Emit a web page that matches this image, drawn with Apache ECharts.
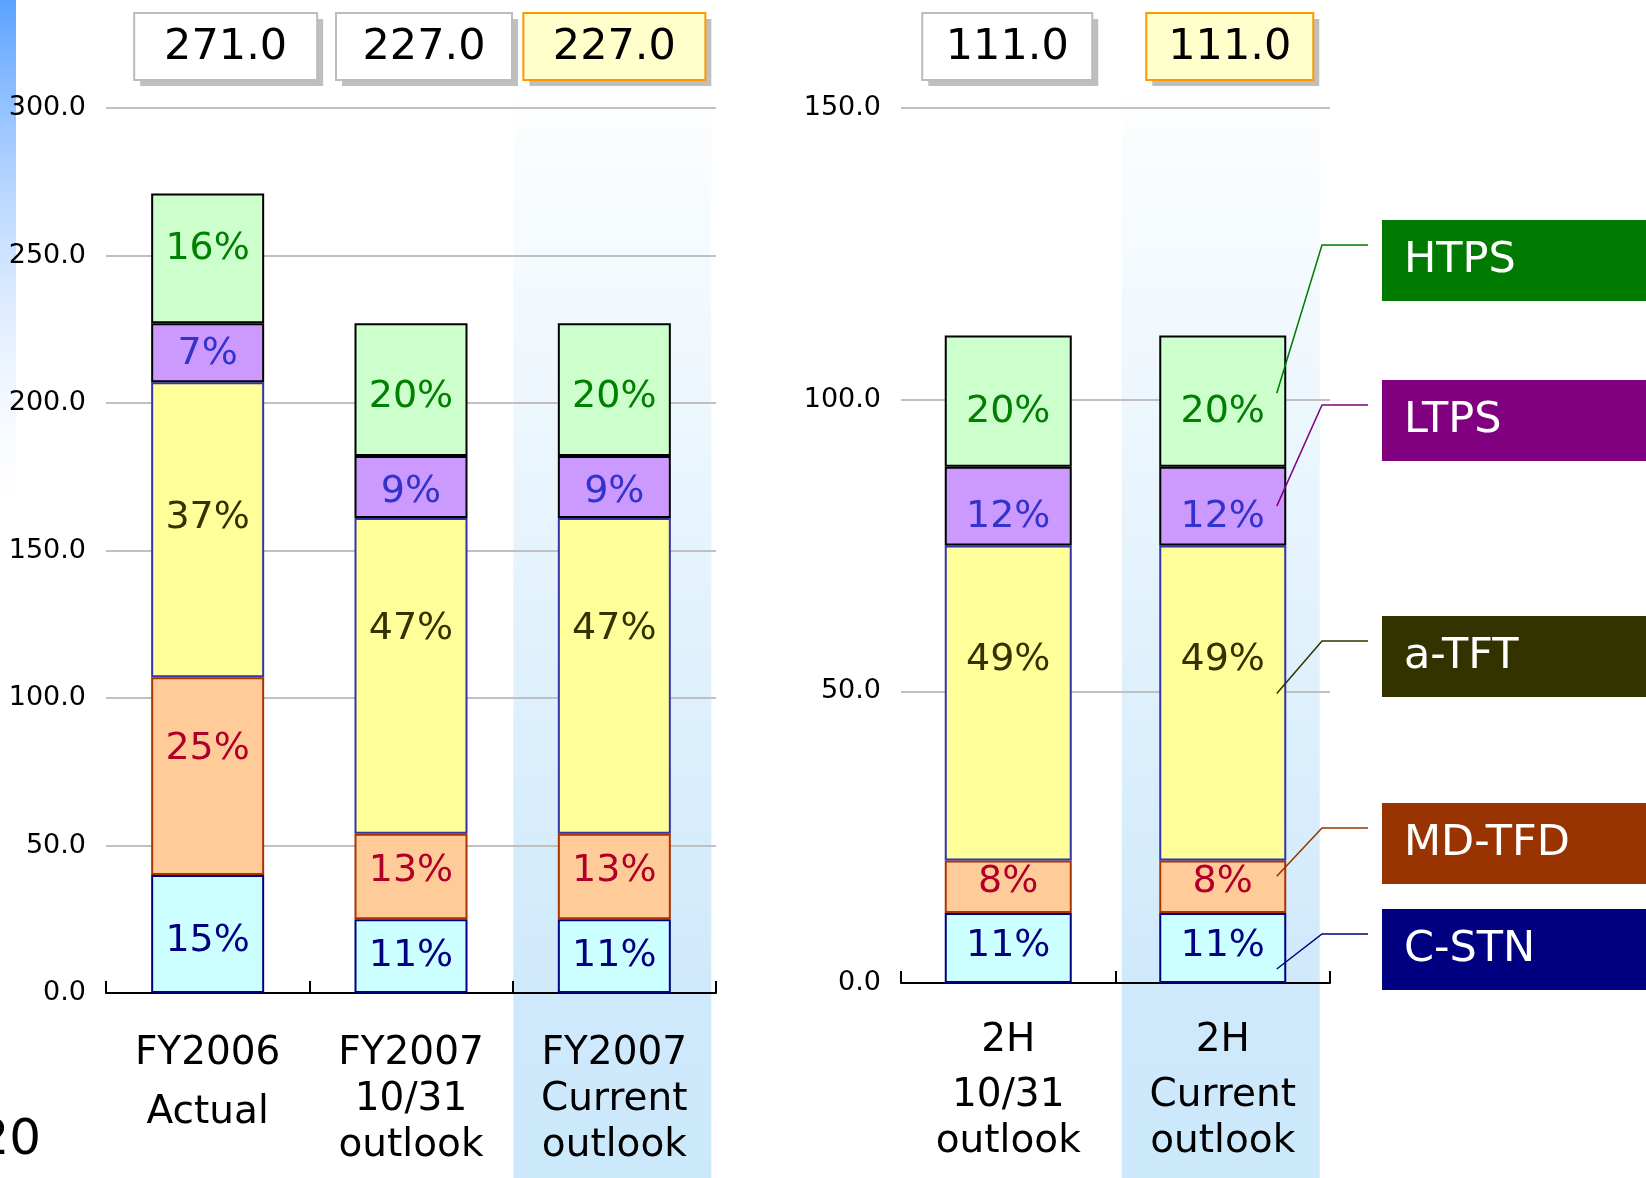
<!DOCTYPE html>
<html>
<head>
<meta charset="utf-8">
<script src="https://cdn.jsdelivr.net/npm/echarts@6/dist/echarts.min.js"></script>
<style>
html, body { margin: 0; padding: 0; background: #fff; }
#main { width: 1646px; height: 1178px; }
</style>
</head>
<body>
<div id="main"></div>
<script>
// series, bottom to top
var seriesNames = ['C-STN', 'MD-TFD', 'a-TFT', 'LTPS', 'HTPS'];

// left chart: fiscal years
var fyCategories = ['FY2006\nActual', 'FY2007\n10/31\noutlook', 'FY2007\nCurrent\noutlook'];
var fyCstn = [40, 25, 25];
var fyMdtfd = [67, 29, 29];
var fyAtft = [100, 107, 107];
var fyLtps = [20, 21, 21];
var fyHtps = [44, 45, 45];
var fyTicks = [0, 300, 50];

// right chart: second half
var hCategories = ['2H\n10/31\noutlook', '2H\nCurrent\noutlook'];
var hCstn = [12, 12];
var hMdtfd = [9, 9];
var hAtft = [54, 54];
var hLtps = [13.5, 13.5];
var hHtps = [22.5, 22.5];
var hTicks = [0, 150, 50];

var fyData = [fyCstn, fyMdtfd, fyAtft, fyLtps, fyHtps];
var hData = [hCstn, hMdtfd, hAtft, hLtps, hHtps];

function totals(sets) {
    return sets[0].map(function (v, i) {
        var s = 0;
        sets.forEach(function (d) { s += d[i]; });
        return s;
    });
}
var fyTotals = totals(fyData);
var hTotals = totals(hData);

// styles
var FONT = 'DejaVu Sans';
var fillColors = ['#ccffff', '#ffcc99', '#ffff99', '#cc99ff', '#ccffcc'];
var borderColors = ['#000080', '#aa3300', '#3333aa', '#000000', '#000000'];
var labelColors = ['#000080', '#b0002a', '#333300', '#3333cc', '#008000'];
var legendColors = ['#000080', '#993300', '#333300', '#800080', '#007a00'];
// vertical nudge of the % labels, per series (first FY bar has its own)
var fyLabelShift = [0, -5, -47, 5, 7];
var fyFirstShift = [7, -27, -12, 1, -9];
var hLabelShift = [-2, -5, -43, 11, 11];

var myChart = echarts.init(document.getElementById('main'));

function catLabel(value) {
    var lines = value.split('\n');
    var out = ['{h|' + lines[0] + '}'];
    for (var i = 1; i < lines.length; i++) {
        out.push((lines.length == 2 ? '{w|' : '{l|') + lines[i] + '}');
    }
    return out.join('\n');
}

function makeXAxis(idx, data, firstLine, margin) {
    var txt = { fontFamily: FONT, fontSize: 39, color: '#000' };
    return {
        type: 'category',
        gridIndex: idx,
        data: data,
        axisLine: { show: true, lineStyle: { color: '#000', width: 2 } },
        axisTick: { show: true, alignWithLabel: false, inside: true, length: 12, lineStyle: { color: '#000', width: 2 } },
        axisLabel: {
            margin: margin,
            interval: 0,
            formatter: catLabel,
            rich: {
                h: Object.assign({ lineHeight: firstLine }, txt),
                l: Object.assign({ lineHeight: 46 }, txt),
                w: Object.assign({ lineHeight: 72 }, txt)
            }
        }
    };
}

function makeYAxis(idx, ticks) {
    return {
        type: 'value',
        gridIndex: idx,
        min: ticks[0],
        max: ticks[1],
        interval: ticks[2],
        axisLine: { show: false },
        axisTick: { show: false },
        axisLabel: {
            margin: 20,
            fontFamily: FONT,
            fontSize: 27,
            color: '#000',
            formatter: function (v) { return v.toFixed(1); }
        },
        splitLine: { lineStyle: { color: '#c0c0c0', width: 2 } }
    };
}

var series = [];
function addSeries(idx, data, tots, width, stack, shift, firstShift) {
    seriesNames.forEach(function (name, i) {
        series.push({
            name: name,
            type: 'bar',
            stack: stack,
            xAxisIndex: idx,
            yAxisIndex: idx,
            barWidth: width,
            data: data[i].map(function (v, j) {
                var dy = (j == 0 && firstShift) ? firstShift[i] : shift[i];
                return { value: v, label: { offset: [0, dy] } };
            }),
            itemStyle: { color: fillColors[i], borderColor: borderColors[i], borderWidth: 2 },
            label: {
                show: true,
                position: 'inside',
                fontFamily: FONT,
                fontSize: 38,
                color: labelColors[i],
                formatter: function (p) {
                    return Math.round(p.value / tots[p.dataIndex] * 100) + '%';
                }
            }
        });
    });
}
addSeries(0, fyData, fyTotals, 113, 'fy', fyLabelShift, fyFirstShift);
addSeries(1, hData, hTotals, 127, 'h', hLabelShift, null);

option = {
    animation: false,
    backgroundColor: '#fff',
    grid: [
        { left: 106, top: 108, width: 610, height: 885 },
        { left: 901, top: 108, width: 429, height: 875 }
    ],
    xAxis: [makeXAxis(0, fyCategories, 46, 38), makeXAxis(1, hCategories, 64, 26)],
    yAxis: [makeYAxis(0, fyTicks), makeYAxis(1, hTicks)],
    series: series
};
myChart.setOption(option);

/* decoration: bands, total boxes, legend */
var g = [];

// blue strip on the left edge
g.push({
    type: 'rect', z: -10,
    shape: { x: 0, y: 0, width: 16, height: 500 },
    style: {
        fill: { type: 'linear', x: 0, y: 0, x2: 0, y2: 1,
            colorStops: [{ offset: 0, color: '#5aa2ff' }, { offset: 1, color: 'rgba(220,232,255,0)' }] }
    }
});

function band(axis, idx) {
    var cx = myChart.convertToPixel({ xAxisIndex: axis }, idx);
    g.push({
        type: 'rect', z: -10,
        shape: { x: cx - 101, y: 100, width: 198, height: 1078 },
        style: {
            fill: { type: 'linear', x: 0, y: 0, x2: 0, y2: 1,
                colorStops: [
                    { offset: 0, color: 'rgba(204,232,251,0.05)' },
                    { offset: 0.09, color: 'rgba(204,232,251,0.15)' },
                    { offset: 0.83, color: 'rgba(204,232,251,0.95)' },
                    { offset: 1, color: 'rgba(204,232,251,1)' }
                ] }
        }
    });
}
band(0, 2);
band(1, 1);

function totalBox(axis, idx, value, w, dx, highlight) {
    var cx = myChart.convertToPixel({ xAxisIndex: axis }, idx) + dx;
    var x = cx - w / 2, y = 13, h = 67;
    g.push({ type: 'rect', shape: { x: x + 6, y: y + 6, width: w, height: h }, style: { fill: '#bfbfbf' } });
    g.push({
        type: 'rect', shape: { x: x, y: y, width: w, height: h },
        style: { fill: highlight ? '#ffffcc' : '#fff', stroke: highlight ? '#ff9900' : '#bbbbbb', lineWidth: 2 }
    });
    g.push({
        type: 'text', x: cx, y: y + h / 2 + 1,
        style: { text: value.toFixed(1), fontFamily: FONT, fontSize: 43, fill: '#000', align: 'center', verticalAlign: 'middle' }
    });
}
var fyBoxW = [183, 176, 182], fyBoxDx = [18, 13, 0];
var hBoxW = [170, 167], hBoxDx = [-1, 7];
fyTotals.forEach(function (t, i) { totalBox(0, i, t, fyBoxW[i], fyBoxDx[i], i == 2); });
hTotals.forEach(function (t, i) { totalBox(1, i, t, hBoxW[i], hBoxDx[i], i == 1); });

// legend boxes with leader lines into the last bar
var legendTops = [909, 803, 616, 380, 220];
var leaderFrac = [0.2, 0.7, 0.53, 0.5, 0.56];
var lastIdx = hCategories.length - 1;
var lastX = myChart.convertToPixel({ xAxisIndex: 1 }, lastIdx);
var base = 0;
seriesNames.forEach(function (name, i) {
    var top = legendTops[i];
    var segVal = hData[i][lastIdx];
    var endY = myChart.convertToPixel({ yAxisIndex: 1 }, base + segVal * leaderFrac[i]);
    base += segVal;
    g.push({
        type: 'rect', shape: { x: 1382, y: top, width: 270, height: 81 },
        style: { fill: legendColors[i] }
    });
    g.push({
        type: 'text', x: 1404, y: top + 41,
        style: { text: name, fontFamily: FONT, fontSize: 43, fill: '#fff', verticalAlign: 'middle' }
    });
    g.push({
        type: 'polyline', z: 10,
        shape: { points: [[1368, top + 25], [1322, top + 25], [lastX + 54, endY]] },
        style: { stroke: legendColors[i], lineWidth: 1.5, fill: null }
    });
});

// page number, cut at the edge
g.push({
    type: 'text', x: 41, y: 1141,
    style: { text: '20', fontFamily: FONT, fontSize: 50, fill: '#000', align: 'right', verticalAlign: 'middle' }
});

myChart.setOption({ graphic: g });
window.onresize = myChart.resize;
</script>
</body>
</html>
